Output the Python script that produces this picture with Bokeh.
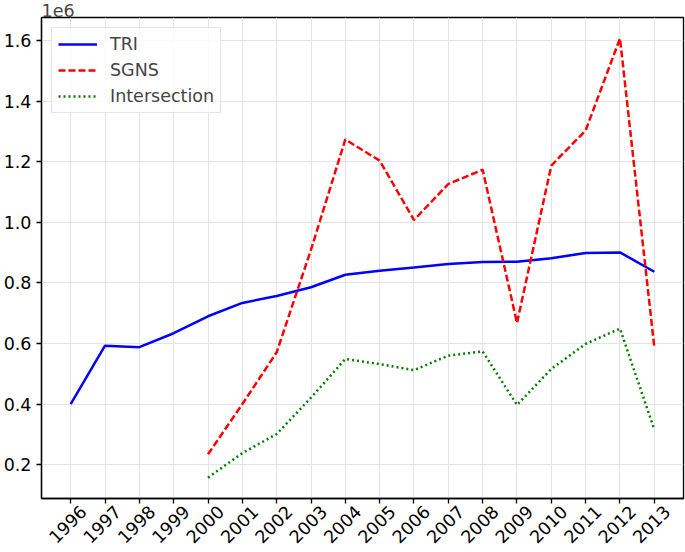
import math
from bokeh.plotting import figure
from bokeh.models import (Range1d, FixedTicker, Legend, LegendItem, LinearAxis,
                          CustomLabelingPolicy)
from bokeh.embed import file_html
from bokeh.resources import INLINE

years = list(range(1996, 2014))
tri = [0.400, 0.593, 0.588, 0.634, 0.690, 0.734, 0.757, 0.786, 0.827,
       0.840, 0.851, 0.863, 0.869, 0.870, 0.882, 0.899, 0.901, 0.837]
sub_years = list(range(2000, 2014))
sgns = [0.234, 0.400, 0.571, 0.910, 1.274, 1.204, 1.008, 1.127, 1.174,
        0.668, 1.188, 1.304, 1.608, 0.588]
inter = [0.157, 0.238, 0.301, 0.421, 0.549, 0.532, 0.512, 0.560, 0.574,
         0.397, 0.516, 0.599, 0.649, 0.316]
y_ticks = [0.2, 0.4, 0.6, 0.8, 1.0, 1.2, 1.4, 1.6]

FONT = "DejaVu Sans"
FS = "17.5px"
X0, X1 = 1995.15, 2013.85
SHIFT = 0.37  # label offset (years) to centre rotated labels on ticks

p = figure(width=685, height=552, output_backend="svg", toolbar_location=None,
           x_range=Range1d(X0, X1), y_range=Range1d(0.088, 1.677),
           min_border_left=40, min_border_right=2, min_border_top=15,
           min_border_bottom=0, title="1e6")
p.title.text_font = FONT
p.title.text_font_size = FS
p.title.text_font_style = "normal"
p.title.align = "left"
p.title.offset = 0
p.title.standoff = 2

r1 = p.line(years, tri, line_color="#0000ff", line_width=2.5)
r2 = p.line(sub_years, sgns, line_color="#ff0000", line_width=2.5, line_dash="7 3")
r3 = p.line(sub_years, inter, line_color="#008000", line_width=2.5, line_dash="2 3")

# main x axis: ticks only (labels suppressed, drawn by the shifted axis below)
p.xaxis.ticker = FixedTicker(ticks=years)
p.xaxis.major_label_text_font_size = "1px"
p.xaxis.major_label_standoff = 0
p.xaxis.major_label_policy = CustomLabelingPolicy(
    code="for (const i of Array.from(indices)) { indices.unset(i) }")
p.yaxis.ticker = FixedTicker(ticks=y_ticks)
p.yaxis.major_label_overrides = {v: f"{v:.1f}" for v in y_ticks}
p.yaxis.major_label_text_font = FONT
p.yaxis.major_label_text_font_size = FS
p.yaxis.major_label_standoff = 5

for ax in (p.xaxis, p.yaxis):
    ax.major_label_text_color = "black"
    ax.axis_line_color = "black"
    ax.axis_line_width = 1.3
    ax.major_tick_line_color = "black"
    ax.major_tick_line_width = 1.3
    ax.major_tick_in = 0
    ax.major_tick_out = 5
    ax.minor_tick_line_color = None

# label-only axis, shifted so rotated labels are centred under their ticks
p.extra_x_ranges["labels"] = Range1d(X0 - SHIFT, X1 - SHIFT)
lab_axis = LinearAxis(x_range_name="labels", ticker=FixedTicker(ticks=years),
                      major_label_overrides={y: str(y) for y in years},
                      major_label_orientation=math.pi / 4,
                      major_label_text_font=FONT, major_label_text_font_size=FS,
                      major_label_text_color="black", major_label_standoff=1,
                      axis_line_color=None, major_tick_line_color=None,
                      minor_tick_line_color=None, major_tick_out=0, major_tick_in=0)
p.add_layout(lab_axis, "below")

p.outline_line_color = "black"
p.outline_line_width = 1.3
p.grid.grid_line_color = "#e4e4e4"
p.grid.grid_line_width = 1

legend = Legend(items=[LegendItem(label="TRI", renderers=[r1]),
                       LegendItem(label="SGNS", renderers=[r2]),
                       LegendItem(label="Intersection", renderers=[r3])],
                location="top_left")
legend.margin = 10
legend.padding = 6
legend.spacing = 6
legend.glyph_width = 39
legend.glyph_height = 20
legend.label_height = 20
legend.label_standoff = 13
legend.label_text_font = FONT
legend.label_text_font_size = FS
legend.border_line_color = "#cccccc"
legend.border_line_width = 1
legend.background_fill_alpha = 0.8
p.add_layout(legend)

open("out.html", "w").write(file_html(p, INLINE))
